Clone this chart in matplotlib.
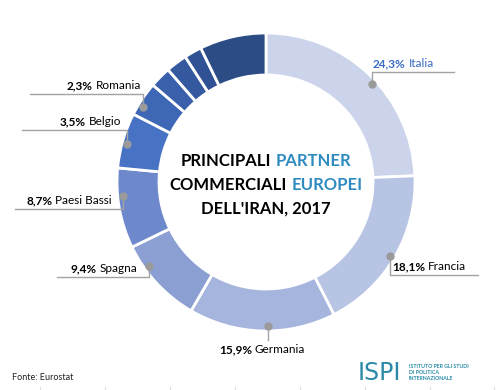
import matplotlib.pyplot as plt
import numpy as np

# slices, clockwise from 12 o'clock (the last four are unlabelled)
countries = ["Italia", "Francia", "Germania", "Spagna", "Paesi Bassi", "Belgio", "Romania"]
pct_text = ["24,3%", "18,1%", "15,9%", "9,4%", "8,7%", "3,5%", "2,3%"]
shares = [24.3, 18.1, 15.9, 9.4, 8.7, 6.0, 3.75, 2.3, 2.3, 1.9, 7.2]
colors = ["#cbd4ea", "#b8c4e4", "#a6b5dd", "#8c9fd3", "#6e89cb", "#4873c4",
          "#3e67b6", "#3a60ab", "#35599f", "#305294", "#2b4c85"]

W, H = 498, 390
BLUE = "#2e8bc0"
GREY = "#a3a3a3"
TEAL = "#2a8aa8"

fig = plt.figure(figsize=(W / 100, H / 100), dpi=100)
ax = fig.add_axes([0, 0, 1, 1])

cx, cy = 266, H - 182
R, ring = 149, 42
wedges, _ = ax.pie(shares, colors=colors, startangle=90, counterclock=False,
                   radius=R, center=(cx, cy),
                   wedgeprops=dict(width=ring, edgecolor="white", linewidth=2))
ax.set_xlim(0, W)
ax.set_ylim(0, H)
ax.set_aspect("equal")
ax.axis("off")

fig.canvas.draw()
rend = fig.canvas.get_renderer()


def width(t):
    return t.get_window_extent(renderer=rend).width


def two_part(x, y, bold, normal, ha, color="black", size=8.5):
    # "xx,x%" in bold followed by the country name
    gap = 3
    if ha == "left":
        t1 = ax.text(x, y, bold, ha="left", va="baseline", fontsize=size,
                     fontweight="bold", color=color, family="Lato")
        ax.text(x + width(t1) + gap, y, normal, ha="left", va="baseline",
                fontsize=size, color=color, family="Lato")
    elif ha == "right":
        t2 = ax.text(x, y, normal, ha="right", va="baseline", fontsize=size,
                     color=color, family="Lato")
        ax.text(x - width(t2) - gap, y, bold, ha="right", va="baseline",
                fontsize=size, fontweight="bold", color=color, family="Lato")
    else:
        t1 = ax.text(0, y, bold, ha="left", va="baseline", fontsize=size,
                     fontweight="bold", color=color, family="Lato")
        t2 = ax.text(0, y, normal, ha="left", va="baseline", fontsize=size,
                     color=color, family="Lato")
        total = width(t1) + gap + width(t2)
        t1.set_x(x - total / 2)
        t2.set_x(x - total / 2 + width(t1) + gap)


# label layout: position inside slice, leader line y, line end x, text x, alignment
layout = [
    (0.54, 72, 454, 373, "left"),
    (0.51, 275, 478, 392, "left"),
    (0.46, 340, None, 262, "center"),
    (0.71, 277, 57, 137, "right"),
    (0.65, 209, 15, 112, "right"),
    (0.46, 130, 22, 121, "right"),
    (0.33, 94, 30, 141, "right"),
]

for i, (frac, yl, xend, xt, ha) in enumerate(layout):
    w = wedges[i]
    # clockwise pie: the slice starts at theta2 and runs down to theta1
    ang = np.deg2rad(w.theta2 - frac * (w.theta2 - w.theta1))
    dx, dy = cx + 144 * np.cos(ang), cy + 144 * np.sin(ang)
    ylp = H - yl
    if xend is None:
        ax.plot([dx, dx], [dy, ylp], color=GREY, lw=1, zorder=3)
        ybase = ylp - 13
    else:
        ax.plot([dx, dx, xend], [dy, ylp, ylp], color=GREY, lw=1, zorder=3)
        ybase = ylp + 5
    ax.plot(dx, dy, "o", ms=6, color="#9a9a9a", mec="none", zorder=4)
    col = "#3a6cc4" if i == 0 else "black"
    two_part(xt, ybase, pct_text[i], countries[i], ha, color=col)

# centre title, mixed colours
title_lines = [
    [("PRINCIPALI", "black"), ("PARTNER", BLUE)],
    [("COMMERCIALI", "black"), ("EUROPEI", BLUE)],
    [("DELL'IRAN, 2017", "black")],
]
title_y = [166, 190, 214]
for parts, yy in zip(title_lines, title_y):
    ts = [ax.text(0, H - yy, s, color=c, ha="left", va="baseline", fontsize=12,
                  fontweight="bold", family="Lato") for s, c in parts]
    gap = 5
    total = sum(width(t) for t in ts) + gap * (len(ts) - 1)
    x0 = cx - total / 2
    for t in ts:
        t.set_x(x0)
        x0 += width(t) + gap

# footer
ax.text(12, H - 378, "Fonte: Eurostat", ha="left", va="center", fontsize=6.5,
        family="Lato", color="#222222")
ax.text(358, H - 373, "ISPI", ha="left", va="center", fontsize=17,
        family="DejaVu Sans", color=TEAL)
for k, s in enumerate(["ISTITUTO PER GLI STUDI", "DI POLITICA", "INTERNAZIONALE"]):
    ax.text(409, H - (367 + 5.5 * k), s, ha="left", va="center", fontsize=3.8,
            fontweight="bold", family="Lato", color=TEAL)

# faint ticks along the bottom edge
for xt in [40, 105, 170, 235, 300, 365, 430, 494]:
    ax.plot([xt, xt], [0, 3], color="#dddddd", lw=0.8)

fig.savefig("out.png", dpi=100)
